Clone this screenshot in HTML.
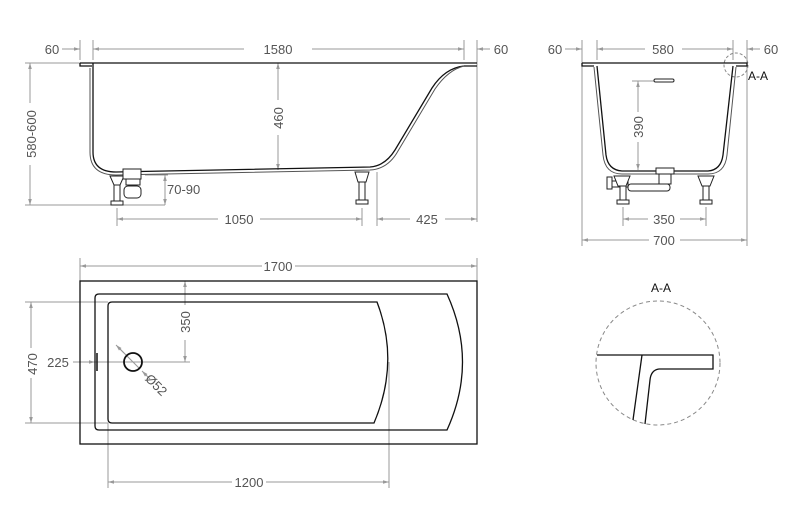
<!DOCTYPE html>
<html><head><meta charset="utf-8"><style>
html,body{margin:0;padding:0;background:#fff;}
svg{display:block;}
text{font-family:"Liberation Sans",sans-serif;font-size:13px;fill:#555;}
.d{stroke:#999;stroke-width:1;fill:none;}
.o{stroke:#111;stroke-width:1.3;fill:none;}
.t{stroke:#555;stroke-width:1;fill:none;}
</style></head><body>
<svg width="793" height="532" viewBox="0 0 793 532" xmlns="http://www.w3.org/2000/svg">
<defs>
<marker id="a" viewBox="0 0 10 10" refX="10" refY="5" markerWidth="8" markerHeight="6" orient="auto-start-reverse"><path d="M0,2 L10,5 L0,8 z" fill="#999"/></marker>
</defs>

<!-- SIDE VIEW -->
<g class="d">
<line x1="80" y1="40" x2="80" y2="60"/><line x1="93" y1="40" x2="93" y2="60"/>
<line x1="464" y1="40" x2="464" y2="60"/><line x1="477" y1="40" x2="477" y2="222"/>
<line x1="62" y1="49" x2="80" y2="49" marker-end="url(#a)"/>
<line x1="93" y1="49" x2="244" y2="49" marker-start="url(#a)"/>
<line x1="312" y1="49" x2="464" y2="49" marker-end="url(#a)"/>
<line x1="477" y1="49" x2="490" y2="49" marker-start="url(#a)"/>
<line x1="25" y1="63" x2="80" y2="63"/><line x1="25" y1="205" x2="165" y2="205"/>
<line x1="30" y1="63" x2="30" y2="103" marker-start="url(#a)"/>
<line x1="30" y1="165" x2="30" y2="205" marker-end="url(#a)"/>
<line x1="278" y1="63" x2="278" y2="100" marker-start="url(#a)"/>
<line x1="278" y1="135" x2="278" y2="170" marker-end="url(#a)"/>
<line x1="145" y1="175" x2="168" y2="175"/>
<line x1="165" y1="175" x2="165" y2="205" marker-start="url(#a)" marker-end="url(#a)"/>
<line x1="117" y1="208" x2="117" y2="226"/><line x1="362" y1="208" x2="362" y2="226"/>
<line x1="377" y1="172" x2="377" y2="226"/>
<line x1="117" y1="219" x2="218" y2="219" marker-start="url(#a)"/>
<line x1="260" y1="219" x2="362" y2="219" marker-end="url(#a)"/>
<line x1="377" y1="219" x2="410" y2="219" marker-start="url(#a)"/>
<line x1="445" y1="219" x2="477" y2="219" marker-end="url(#a)"/>
</g>
<text x="52" y="54" text-anchor="middle">60</text>
<text x="278" y="54" text-anchor="middle">1580</text>
<text x="501" y="54" text-anchor="middle">60</text>
<text transform="translate(36,134) rotate(-90)" text-anchor="middle">580-600</text>
<text transform="translate(283,118) rotate(-90)" text-anchor="middle">460</text>
<text x="167" y="194">70-90</text>
<text x="239" y="224" text-anchor="middle">1050</text>
<text x="427" y="224" text-anchor="middle">425</text>
<path class="o" d="M80,63 L477,63 M80,63 L80,66 L92,66 M93,63 L93,152 Q93,172 116,172 L370,167 Q385,166 395,150 L432,88 Q445,68 464,66 L477,66"/>
<path class="t" d="M90,68 L90,152 Q90,175 116,175 L370,170 Q388,169 398,151 L435,89 Q448,70 464,66"/>
<g fill="#fff" stroke="#222" stroke-width="1">
<path d="M110,176 L124,176 L120,185 L114,185 z"/>
<rect x="114" y="185" width="6" height="16"/><rect x="111" y="201" width="12" height="4"/>
<rect x="123" y="169" width="18" height="10"/><rect x="126" y="179" width="14" height="6"/>
<rect x="124" y="186" width="17" height="12" rx="4"/>
<path d="M355,172 L369,172 L366,182 L358,182 z"/>
<rect x="359" y="182" width="6" height="18"/><rect x="356" y="200" width="12" height="4"/>
</g>

<!-- END VIEW -->
<g class="d">
<line x1="582" y1="40" x2="582" y2="246"/><line x1="597" y1="40" x2="597" y2="60"/>
<line x1="733" y1="40" x2="733" y2="60"/><line x1="747" y1="40" x2="747" y2="246"/>
<line x1="565" y1="49" x2="582" y2="49" marker-end="url(#a)"/>
<line x1="597" y1="49" x2="645" y2="49" marker-start="url(#a)"/>
<line x1="682" y1="49" x2="733" y2="49" marker-end="url(#a)"/>
<line x1="747" y1="49" x2="760" y2="49" marker-start="url(#a)"/>
<line x1="632" y1="81" x2="654" y2="81"/>
<line x1="638" y1="81" x2="638" y2="112" marker-start="url(#a)"/>
<line x1="638" y1="142" x2="638" y2="170" marker-end="url(#a)"/>
<line x1="623" y1="207" x2="623" y2="226"/><line x1="706" y1="207" x2="706" y2="226"/>
<line x1="623" y1="219" x2="648" y2="219" marker-start="url(#a)"/>
<line x1="680" y1="219" x2="706" y2="219" marker-end="url(#a)"/>
<line x1="582" y1="240" x2="649" y2="240" marker-start="url(#a)"/>
<line x1="680" y1="240" x2="747" y2="240" marker-end="url(#a)"/>
</g>
<text x="555" y="54" text-anchor="middle">60</text>
<text x="663" y="54" text-anchor="middle">580</text>
<text x="771" y="54" text-anchor="middle">60</text>
<text transform="translate(643,127) rotate(-90)" text-anchor="middle">390</text>
<text x="664" y="224" text-anchor="middle">350</text>
<text x="664" y="245" text-anchor="middle">700</text>
<text x="748" y="80" style="fill:#111;font-size:12px">A-A</text>
<circle cx="736" cy="65" r="12" fill="none" stroke="#888" stroke-dasharray="3,2"/>
<path class="o" d="M582,63 L747,63 L747,66 L736,66 M582,63 L582,66 L594,66"/>
<path class="o" d="M597,66 L606,155 Q608,170 622,171 L708,171 Q721,170 723,155 L733,66"/>
<path class="t" d="M594,67 L603,155 Q605,174 622,174 L708,174 Q725,174 727,155 L736,67"/>
<rect x="654" y="79" width="20" height="3" rx="1.5" fill="#fff" stroke="#222"/>
<g fill="#fff" stroke="#222" stroke-width="1">
<rect x="656" y="168" width="18" height="6"/><rect x="659" y="174" width="12" height="10"/>
<rect x="628" y="184" width="42" height="7" rx="3"/>
<rect x="607" y="177" width="5" height="12"/><rect x="612" y="181" width="16" height="6"/>
<path d="M614,176 L630,176 L626,186 L618,186 z"/>
<rect x="620" y="186" width="6" height="14"/><rect x="617" y="200" width="12" height="4"/>
<path d="M698,176 L714,176 L710,186 L702,186 z"/>
<rect x="703" y="186" width="6" height="14"/><rect x="700" y="200" width="12" height="4"/>
</g>

<!-- PLAN VIEW -->
<g class="d">
<line x1="80" y1="258" x2="80" y2="281"/><line x1="477" y1="258" x2="477" y2="281"/>
<line x1="80" y1="266" x2="262" y2="266" marker-start="url(#a)"/>
<line x1="295" y1="266" x2="477" y2="266" marker-end="url(#a)"/>
<line x1="25" y1="302" x2="108" y2="302"/><line x1="25" y1="423" x2="108" y2="423"/>
<line x1="31" y1="302" x2="31" y2="348" marker-start="url(#a)"/>
<line x1="31" y1="378" x2="31" y2="423" marker-end="url(#a)"/>
<line x1="185" y1="281" x2="185" y2="305" marker-start="url(#a)"/>
<line x1="185" y1="340" x2="185" y2="362" marker-end="url(#a)"/>
<line x1="73" y1="362" x2="95" y2="362" marker-end="url(#a)"/>
<line x1="95" y1="362" x2="190" y2="362"/>
<line x1="116" y1="345" x2="124" y2="353" marker-start="url(#a)"/>
<line x1="119" y1="348" x2="140" y2="369"/>
<line x1="142" y1="371" x2="150" y2="379" marker-start="url(#a)"/>
<line x1="108" y1="423" x2="108" y2="488"/><line x1="389" y1="362" x2="389" y2="488"/>
<line x1="108" y1="482" x2="232" y2="482" marker-start="url(#a)"/>
<line x1="266" y1="482" x2="389" y2="482" marker-end="url(#a)"/>
</g>
<text x="278" y="271" text-anchor="middle">1700</text>
<text transform="translate(37,364) rotate(-90)" text-anchor="middle">470</text>
<text transform="translate(190,322) rotate(-90)" text-anchor="middle">350</text>
<text x="58" y="367" text-anchor="middle">225</text>
<text transform="translate(153,388) rotate(45)" text-anchor="middle">Ø52</text>
<text x="249" y="487" text-anchor="middle">1200</text>
<rect x="80" y="281" width="397" height="163" class="o"/>
<path class="o" d="M99,294 L447,294 Q478,362 447,430 L99,430 Q95,430 95,426 L95,298 Q95,294 99,294 z"/>
<path class="o" d="M112,302 L377,302 Q400,362 374,423 L112,423 Q108,423 108,419 L108,306 Q108,302 112,302 z"/>
<circle cx="133" cy="362" r="9" fill="none" stroke="#111" stroke-width="1.8"/>
<line x1="97" y1="353" x2="97" y2="371" stroke="#111" stroke-width="1.5"/>

<!-- SECTION A-A -->
<text x="661" y="292" text-anchor="middle" style="fill:#111;font-size:12px">A-A</text>
<circle cx="658" cy="363" r="62" fill="none" stroke="#888" stroke-dasharray="4,3"/>
<path class="o" d="M597,355 L713,355 L713,369 L659,369 Q651,370 650,380 L645,424"/>
<line class="o" x1="642" y1="355" x2="633" y2="420"/>
</svg>
</body></html>
